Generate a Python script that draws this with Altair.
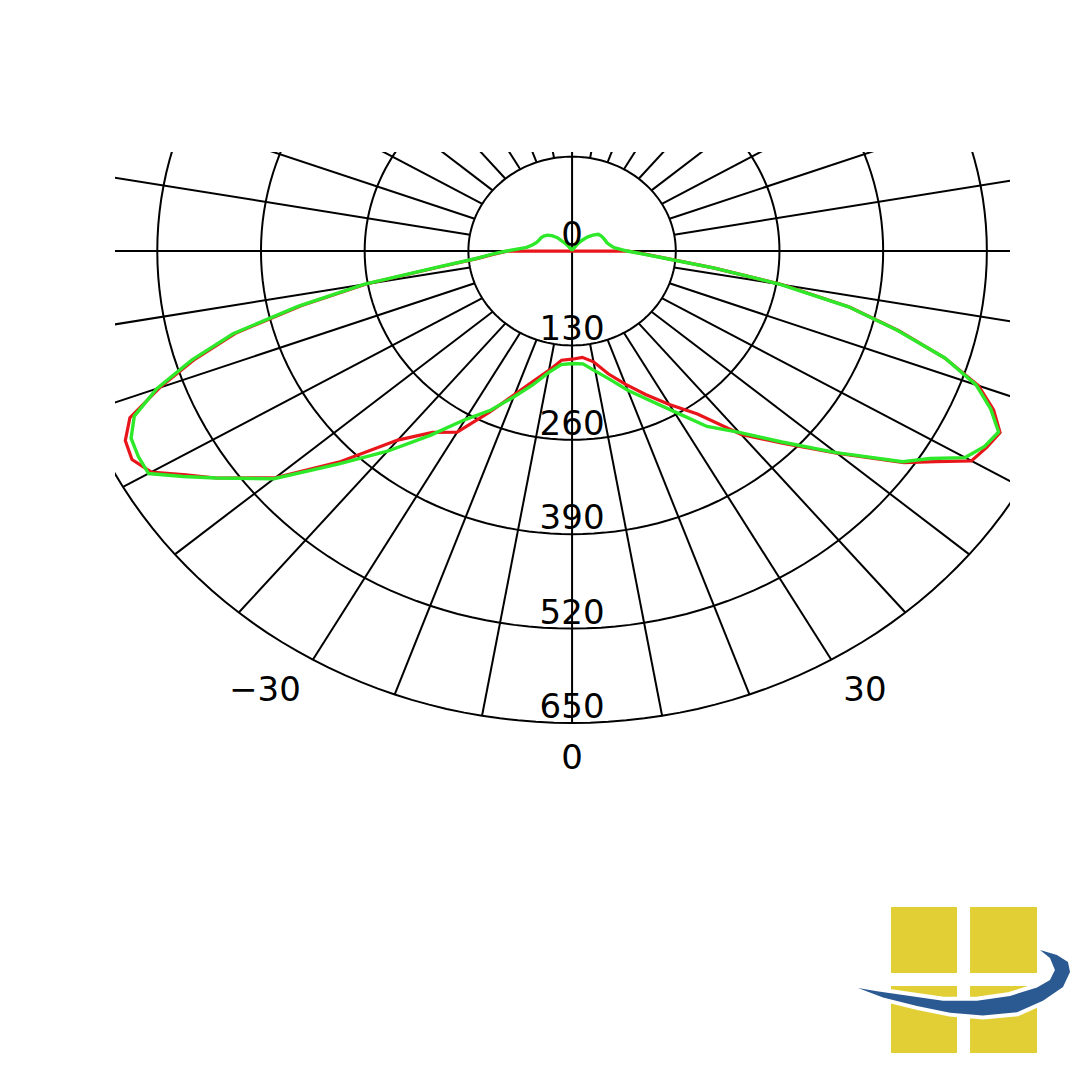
import altair as alt
import numpy as np
import pandas as pd

# ---------------- data ----------------
R_GRID = [130, 260, 390, 520, 650]
R_LABEL_VALUES = [0, 130, 260, 390, 520, 650]
R_LABELS = ["0", "130", "260", "390", "520", "650"]
THETA_LABEL_ANGLES = [-30, 0, 30]
THETA_LABELS = ["\u221230", "0", "30"]
SPOKE_ANGLES = list(range(0, 360, 10))
R_MAX = 650
R_HOLE = 130

MAIN_ANGLES = [-90, -87.5, -85, -82.5, -80, -77.5, -75, -72.5, -70, -67.5, -65, -62.5, -60, -57.5, -55,
               -50, -45, -40, -35, -30, -25, -20, -15, -10, -5, 0, 5, 10, 15, 20, 25, 30, 35, 40, 45, 50,
               55, 57.5, 60, 62.5, 65, 67.5, 70, 72.5, 75, 77.5, 80, 82.5, 85, 87.5, 90]

GREEN_BACK_LEFT_ANGLES = [-180, -170, -160, -150, -145, -140, -135, -130, -125, -120, -115, -110, -105, -100, -95]
GREEN_BACK_LEFT_R = [0, 1, 2, 4, 8, 14, 26, 33, 38, 41, 43, 44, 46, 50, 57]
GREEN_MAIN_R = [82, 100, 122, 170, 265, 352, 440, 500, 554, 594, 610, 613, 613, 578, 545,
                488, 415, 360, 310, 268, 242, 214, 191, 170, 157, 155, 156, 168, 183, 204, 226, 255, 295, 326, 372, 432,
                506, 532, 569, 583, 590, 568, 539, 490, 422, 355, 266, 180, 118, 88, 69]
GREEN_BACK_RIGHT_ANGLES = [95, 100, 105, 110, 115, 120, 125, 130, 135, 140, 145, 150, 160, 170, 180]
GREEN_BACK_RIGHT_R = [53, 48, 45, 44, 43, 42, 40, 34, 27, 19, 12, 5, 2, 1, 0]

RED_MAIN_R = [80, 98, 120, 168, 262, 348, 436, 496, 550, 600, 618, 622, 609, 574, 545,
              486, 410, 340, 305, 288, 245, 210, 185, 167, 151, 149, 147, 155, 175, 195, 218, 244, 274, 330, 375, 433,
              508, 540, 578, 586, 592, 572, 542, 490, 424, 356, 268, 180, 120, 90, 70]

GREEN_ANGLES = GREEN_BACK_LEFT_ANGLES + MAIN_ANGLES + GREEN_BACK_RIGHT_ANGLES
GREEN_R = GREEN_BACK_LEFT_R + GREEN_MAIN_R + GREEN_BACK_RIGHT_R
RED_ANGLES = [-90] + MAIN_ANGLES + [90]
RED_R = [0] + RED_MAIN_R + [0]


def to_xy(angles, radii):
    t = np.radians(np.asarray(angles, dtype=float))
    r = np.asarray(radii, dtype=float)
    return r * np.sin(t), -r * np.cos(t)


# grid circles
circ_rows = []
for r in R_GRID:
    th = np.arange(0, 361, 2)
    cx, cy = to_xy(th, np.full(th.shape, r))
    for i, (a, b) in enumerate(zip(cx, cy)):
        circ_rows.append({"r": r, "i": i, "x": a, "y": b})
circles = pd.DataFrame(circ_rows)

# spokes
sp_in = [0 if a % 90 == 0 else R_HOLE for a in SPOKE_ANGLES]
sx0, sy0 = to_xy(SPOKE_ANGLES, sp_in)
sx1, sy1 = to_xy(SPOKE_ANGLES, [R_MAX] * len(SPOKE_ANGLES))
spokes = pd.DataFrame({"a": SPOKE_ANGLES, "x": sx0, "y": sy0, "x2": sx1, "y2": sy1})

gx, gy = to_xy(GREEN_ANGLES, GREEN_R)
green = pd.DataFrame({"x": gx, "y": gy, "o": range(len(gx))})
rx, ry = to_xy(RED_ANGLES, RED_R)
red = pd.DataFrame({"x": rx, "y": ry, "o": range(len(rx))})

rl = pd.DataFrame({"x": [0.0] * len(R_LABEL_VALUES), "y": [-v for v in R_LABEL_VALUES], "t": R_LABELS})
tx, ty = to_xy(THETA_LABEL_ANGLES, [700] * 3)
tl = pd.DataFrame({"x": tx, "y": ty, "t": THETA_LABELS, "a": THETA_LABEL_ANGLES})

xs = alt.Scale(domain=[-573, 549], nice=False, zero=False)
ys = alt.Scale(domain=[-728.6, 136.4], nice=False, zero=False)
X = alt.X("x:Q", scale=xs, axis=None)
Y = alt.Y("y:Q", scale=ys, axis=None)

FONT = "DejaVu Sans"
FS = 34

circ_layer = alt.Chart(circles).mark_line(clip=True, color="#000000", strokeWidth=2).encode(
    x=X, y=Y, detail="r:N", order="i:Q")
spoke_layer = alt.Chart(spokes).mark_rule(clip=True, color="#000000", strokeWidth=2).encode(
    x=X, y=Y, x2="x2:Q", y2="y2:Q")
red_layer = alt.Chart(red).mark_line(clip=True, color="#e8161b", strokeWidth=3.2).encode(
    x=X, y=Y, order="o:Q")
green_layer = alt.Chart(green).mark_line(clip=True, color="#2ee82a", strokeWidth=3.4).encode(
    x=X, y=Y, order="o:Q")
rlab = alt.Chart(rl).mark_text(font=FONT, fontSize=FS, color="#000000", baseline="alphabetic",
                               align="center", dy=-5).encode(x=X, y=Y, text="t:N")
tlab_c = alt.Chart(tl).transform_filter("datum.a == 0").mark_text(
    font=FONT, fontSize=FS, color="#000000", baseline="middle", align="center").encode(x=X, y=Y, text="t:N")
tlab_l = alt.Chart(tl).transform_filter("datum.a < 0").mark_text(
    font=FONT, fontSize=FS, color="#000000", baseline="middle", align="right", dx=8).encode(x=X, y=Y, text="t:N")
tlab_r = alt.Chart(tl).transform_filter("datum.a > 0").mark_text(
    font=FONT, fontSize=FS, color="#000000", baseline="middle", align="left", dx=-8).encode(x=X, y=Y, text="t:N")

# decorative logo (bottom right)
YELLOW_PATH = ("M-0.689,-0.689 L-0.066,-0.689 L-0.066,-0.066 L-0.689,-0.066 Z "
               "M0.057,-0.689 L0.689,-0.689 L0.689,-0.066 L0.057,-0.066 Z "
               "M-0.689,0.057 L-0.066,0.057 L-0.066,0.689 L-0.689,0.689 Z "
               "M0.057,0.057 L0.689,0.057 L0.689,0.689 L0.057,0.689 Z")
SWOOSH_PATH = ("M-1.0,0.075 L-0.764,0.165 L-0.443,0.245 L-0.132,0.308 L0.179,0.335 L0.5,0.305 "
               "L0.745,0.195 L0.934,0.066 L1.0,-0.075 L0.981,-0.170 L0.877,-0.236 L0.717,-0.283 "
               "L0.811,-0.208 L0.858,-0.094 L0.811,0.0 L0.689,0.070 L0.434,0.150 L0.123,0.195 "
               "L-0.198,0.195 L-0.509,0.150 L-0.821,0.105 Z")
logo_df = pd.DataFrame({"k": ["logo"]})
logo_y = alt.Chart(logo_df).mark_point(shape=YELLOW_PATH, size=44944, filled=True, fill="#e2cf36",
                                       strokeWidth=0, opacity=1).encode(x=alt.value(849), y=alt.value(828))
logo_w = alt.Chart(logo_df).mark_point(shape=SWOOSH_PATH, size=44944, filled=True, fill="#ffffff",
                                       stroke="#ffffff", strokeWidth=8, opacity=1).encode(
    x=alt.value(849), y=alt.value(828))
logo_b = alt.Chart(logo_df).mark_point(shape=SWOOSH_PATH, size=44944, filled=True, fill="#2b5a92",
                                       strokeWidth=0, opacity=1).encode(
    x=alt.value(849), y=alt.value(828))

chart = alt.layer(circ_layer, spoke_layer, red_layer, green_layer, rlab, tlab_c, tlab_l, tlab_r,
                  logo_y, logo_w, logo_b).properties(
    width=895, height=628,
    padding={"left": 107, "top": 144, "right": 60, "bottom": 280},
    autosize=alt.AutoSizeParams(type="none"),
    background="white",
).configure_view(stroke=None)

chart.save("out.html", embed_options={"renderer": "svg", "actions": False})
